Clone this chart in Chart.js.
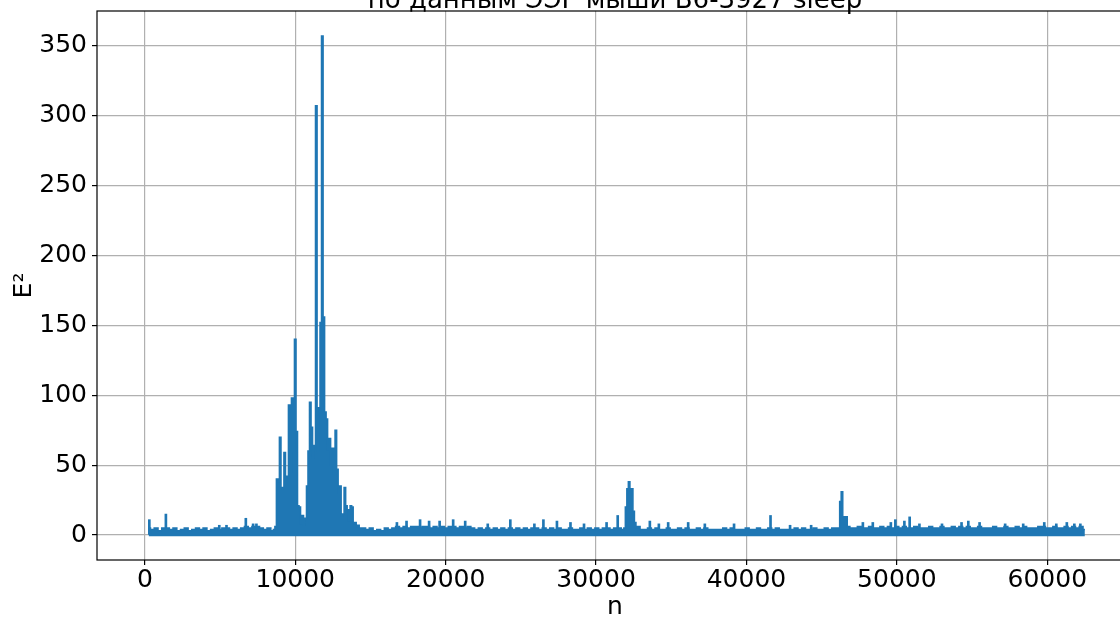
<!DOCTYPE html>
<html>
<head>
<meta charset="utf-8">
<script src="https://cdn.jsdelivr.net/npm/chart.js@4/dist/chart.umd.min.js"></script>
<style>
  html, body { margin: 0; padding: 0; background: #fff; }
  #wrap { position: relative; width: 1120px; height: 617px; overflow: hidden; }
  #chart { position: absolute; left: 0; top: -24px; }
</style>
</head>
<body>
<div id="wrap"><canvas id="chart" width="1140" height="650"></canvas></div>
<script>
// ── DATA ─────────────────────────────────────────────────────────────────────
// E² per sample index n.
// Quiet stretches: level of the dense band every 250 samples, plus the
// isolated narrow spikes on top of it. Bursts: every 100 samples.
const TITLE   = 'по данным ЭЭГ мыши B6-3927 sleep';
const X_LABEL = 'n';
const Y_LABEL = 'E²';
const xTicks  = [0, 10000, 20000, 30000, 40000, 50000, 60000];
const yTicks  = [0, 50, 100, 150, 200, 250, 300, 350];

const quiet1Start = 250,   quiet1Step = 250;
const quiet1E = [5, 4, 5, 3, 5, 5, 4, 5, 3, 4, 5, 3, 4, 5, 4, 5, 3, 4, 5, 4,
                 5, 5, 4, 5, 4, 5, 6, 5, 6, 6, 5, 4, 5, 3];

const burst1Start = 8600,  burst1Step = 100;
const burst1E = [4, 6, 40, 38, 70, 34, 33, 59, 40, 42, 93, 45, 98, 60, 140, 74, 21, 20, 8, 14,
                 7, 12, 35, 60, 95, 77, 55, 64, 307, 60, 91, 152, 357, 156, 88, 83, 61, 69, 50, 62,
                 45, 75, 47, 30, 35, 14, 15, 34, 21, 18, 10, 21, 20, 8, 9, 6, 7, 5];

const quiet2Start = 14550, quiet2Step = 250;
const quiet2E = [5, 4, 5, 3, 4, 3, 5, 4, 5, 6, 5, 6, 5, 6, 6, 5, 6, 6, 5, 6,
                 5, 6, 5, 6, 6, 5, 6, 5, 6, 5, 4, 5, 4, 5, 4, 5, 4, 5, 4, 5,
                 4, 5, 4, 5, 4, 5, 5, 4, 5, 4, 5, 4, 5, 4, 4, 5, 4, 4, 5, 4,
                 5, 4, 5, 4, 5, 5, 4, 5, 5, 4];

const burst2Start = 31900, burst2Step = 100;
const burst2E = [5, 20, 33, 38, 22, 33, 17, 9, 5, 6];

const quiet3Start = 33050, quiet3Step = 250;
const quiet3E = [4, 4, 5, 4, 5, 4, 4, 5, 4, 4, 5, 4, 5, 4, 4, 5, 4, 5, 4, 4,
                 4, 4, 5, 4, 5, 4, 4, 4, 5, 4, 4, 5, 4, 4, 5, 4, 5, 4, 4, 4,
                 4, 5, 4, 5, 4, 4, 5, 4, 4, 5, 4, 5, 5];

const burst3Start = 46150, burst3Step = 100;
const burst3E = [5, 24, 31, 13, 8, 13, 6];

const quiet4Start = 47000, quiet4Step = 250;
const quiet4E = [5, 5, 6, 5, 5, 6, 5, 5, 6, 5, 6, 5, 6, 5, 6, 5, 5, 6, 5, 5,
                 5, 6, 5, 5, 6, 5, 5, 6, 5, 6, 5, 6, 5, 5, 6, 5, 5, 5, 6, 5,
                 5, 6, 5, 5, 6, 5, 6, 5, 5, 5, 6, 6, 5, 5, 6, 5, 5, 6, 5, 6,
                 5, 6, 4];

// isolated narrow spikes in the quiet stretches
const spikeN = [300, 1400, 4950, 5430, 6715, 7200, 7420,
                16760, 17400, 18300, 18900, 19600, 20500, 21300, 22800, 24300, 25900,
                26500, 27400, 28300, 29200, 30700, 31440,
                33577, 34176, 34795, 36125, 37233, 39175, 41600, 42900, 44300,
                47740, 48400, 49600, 49900, 50500, 50850, 51500, 53000, 54300, 54750,
                55500, 57200, 58400, 59800, 60600, 61300, 61800, 62200];
const spikeE = [11, 15, 7, 7, 12, 8, 8,
                9, 10, 11, 10, 10, 11, 10, 8, 11, 8,
                11, 10, 9, 8, 9, 14,
                10, 8, 9, 9, 8, 8, 14, 7, 7,
                9, 9, 9, 11, 10, 13, 8, 8, 9, 10,
                9, 8, 8, 9, 8, 9, 8, 8];

// ── BUILD POINTS ─────────────────────────────────────────────────────────────
function seg(start, step, vals) {
  return vals.map((v, i) => ({ x: start + i * step, y: v }));
}
const bandPoints = [
  ...seg(quiet1Start, quiet1Step, quiet1E),
  ...seg(burst1Start, burst1Step, burst1E),
  ...seg(quiet2Start, quiet2Step, quiet2E),
  ...seg(burst2Start, burst2Step, burst2E),
  ...seg(quiet3Start, quiet3Step, quiet3E),
  ...seg(burst3Start, burst3Step, burst3E),
  ...seg(quiet4Start, quiet4Step, quiet4E),
];
const spikePoints = spikeN.map((n, i) => ({ x: n, y: spikeE[i] }));

// ── STYLE ────────────────────────────────────────────────────────────────────
const FONT  = 'DejaVu Sans';
const BLUE  = '#1f77b4';
const GRID  = '#b0b0b0';
const INK   = '#000';

// matplotlib-like frame on all four sides + title centred over the axes
const frame = {
  id: 'frame',
  afterDatasetsDraw(chart) {
    const { ctx, chartArea: a } = chart;
    ctx.save();
    ctx.strokeStyle = INK;
    ctx.lineWidth = 1.2;
    ctx.strokeRect(a.left, a.top, a.right - a.left, a.bottom - a.top);
    ctx.fillStyle = INK;
    ctx.font = `26px "${FONT}"`;
    ctx.textAlign = 'center';
    ctx.textBaseline = 'alphabetic';
    ctx.fillText(TITLE, (a.left + a.right) / 2, a.top - 3);
    ctx.restore();
  }
};

const tickFont = { family: FONT, size: 25, lineHeight: 1 };

new Chart(document.getElementById('chart'), {
  type: 'line',
  data: {
    datasets: [{
      type: 'line',
      data: bandPoints,
      borderColor: BLUE,
      backgroundColor: BLUE,
      borderWidth: 1.6,
      pointRadius: 0,
      stepped: 'middle',
      fill: { value: -0.9 },
    }, {
      type: 'bar',
      data: spikePoints,
      backgroundColor: BLUE,
      borderWidth: 0,
      barThickness: 2,
    }]
  },
  options: {
    responsive: false,
    animation: false,
    devicePixelRatio: 1,
    layout: { padding: { left: 0, right: 7, top: 35, bottom: 0 } },
    plugins: {
      legend: { display: false },
      tooltip: { enabled: false },
      title: { display: false },
    },
    scales: {
      x: {
        type: 'linear',
        min: -3180, max: 65700,
        offset: false,
        afterBuildTicks: s => { s.ticks = xTicks.map(v => ({ value: v })); },
        afterFit: s => { s.height = 66; },
        ticks: { color: INK, font: tickFont, padding: 3, maxRotation: 0, autoSkip: false,
                 callback: v => String(v) },
        grid: { color: GRID, lineWidth: 1.2, tickColor: INK, tickLength: 5, tickWidth: 1.2, offset: false },
        border: { display: false },
        title: { display: true, text: X_LABEL, color: INK,
                 font: { family: FONT, size: 25, lineHeight: 1 }, padding: { top: 0, bottom: 6 } },
      },
      y: {
        type: 'linear',
        min: -17.85, max: 374.85,
        afterBuildTicks: s => { s.ticks = yTicks.map(v => ({ value: v })); },
        afterFit: s => { s.width = 97; },
        ticks: { color: INK, font: tickFont, padding: 5, autoSkip: false,
                 callback: v => String(v) },
        grid: { color: GRID, lineWidth: 1.2, tickColor: INK, tickLength: 5, tickWidth: 1.2 },
        border: { display: false },
        title: { display: true, text: Y_LABEL, color: INK,
                 font: { family: FONT, size: 25, lineHeight: 1 }, padding: { top: 12, bottom: 0 } },
      },
    },
  },
  plugins: [frame],
});
</script>
</body>
</html>
